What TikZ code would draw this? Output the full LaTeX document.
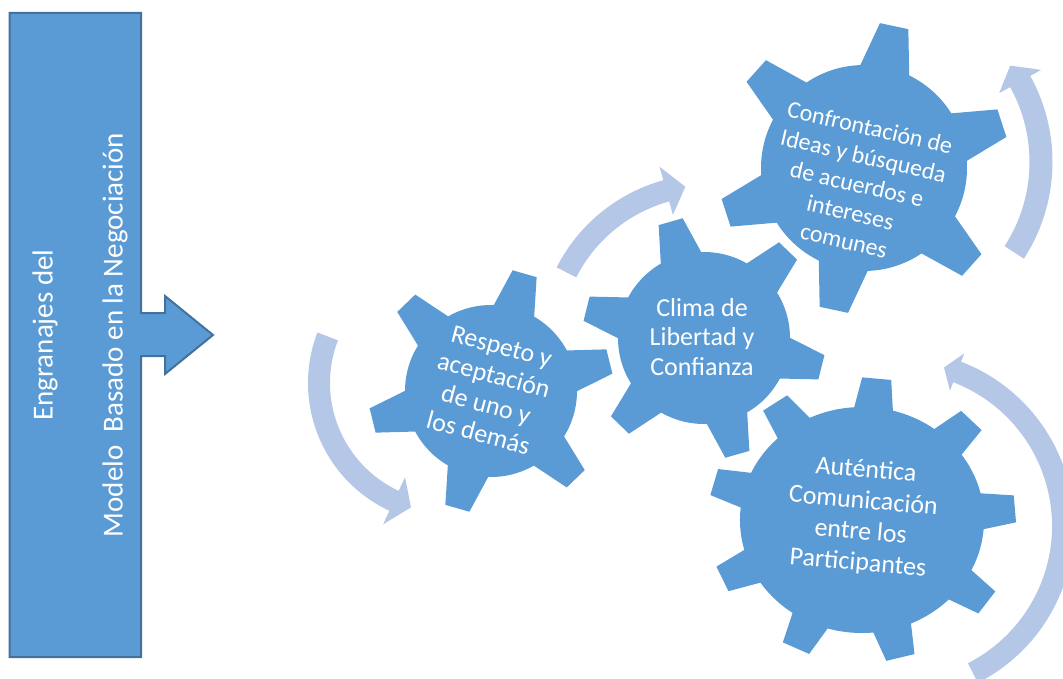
\documentclass[tikz,border=0pt]{standalone}
\usepackage{fontspec}
\setmainfont{Carlito}
\definecolor{gearblue}{HTML}{5B9BD5}
\definecolor{lightblue}{HTML}{B4C7E7}
\definecolor{edgeblue}{HTML}{41719C}
% cx, cy(image), teeth, body r, tip R, offset, tip half width, base half width, xscale
\newcommand\drawgear[9]{%
 \begin{scope}[shift={(#1,-#2)},xscale=#9]
  \fill[gearfill] (0,0) circle (#4);
  \foreach \k in {1,...,#3}{%
   \fill[gearfill,rotate={#6+360/#3*(\k-1)}]
     ({sqrt(#4*#4-#8*#8)-14},-#8) -- ({sqrt(#4*#4-#8*#8)},-#8) -- (#5,-#7) --
     (#5,#7) -- ({sqrt(#4*#4-#8*#8)},#8) -- ({sqrt(#4*#4-#8*#8)-14},#8) -- cycle;}
 \end{scope}}
% cx, cy(image), r, half width, start angle, head base angle, tip angle, head half width
\newcommand\circarrow[8]{%
 \begin{scope}[shift={(#1,-#2)}]
  \fill[cyclefill] (#5:{#3+#4}) arc[start angle=#5, end angle=#6, radius={#3+#4}]
    -- (#6:{#3+#8}) -- (#7:#3) -- (#6:{#3-#8}) -- (#6:{#3-#4})
    arc[start angle=#6, end angle=#5, radius={#3-#4}] -- cycle;
 \end{scope}}
\begin{document}
\begin{tikzpicture}[x=1pt,y=1pt,
  gearfill/.style={fill=gearblue},
  cyclefill/.style={fill=lightblue},
  geartext/.style={text=white, align=center, inner sep=0pt}]
\useasboundingbox (0,0) rectangle (1063,-679);
\begin{scope}
\clip (0,0) rectangle (1063,-679);
% light circular arrows
\circarrow{449}{383}{130}{11}{159}{245}{253}{26}
\circarrow{709}{345}{160}{11}{153}{105.5}{98.5}{25}
\circarrow{875}{162}{166}{11.5}{-33}{29}{35.5}{24}
\circarrow{898}{526}{165}{11}{-63}{69}{73.8}{20}
\end{scope}
% gears
\drawgear{491}{391}{6}{86}{122}{14}{12.5}{21}{1}
\drawgear{704}{338}{6}{86}{121}{-14}{12.5}{21}{1}
\drawgear{864}{168}{6}{103}{145}{18}{14.5}{25}{1}
\drawgear{862}{520}{9}{113}{142}{4.5}{13.5}{18}{1.08}
% left box with arrow
\draw[fill=gearblue, draw=edgeblue, line width=2] (9.5,-13) -- (141,-13) -- (141,-313)
  -- (165,-313) -- (165,-296) -- (213,-335) -- (165,-374) -- (165,-356) -- (141,-356)
  -- (141,-657) -- (9.5,-657) -- cycle;
\node[text=white, rotate=90, align=center, inner sep=0pt,
  font=\fontsize{29}{35}\selectfont] (lefttext) at (80,-335)
  {Engranajes del\\[35pt]Modelo~~Basado en la Negociación};
% gear texts
\node[geartext, rotate=-15, font=\fontsize{26}{30}\selectfont] (respeto) at (490,-390)
  {Respeto y\\aceptación\\de uno y\\los demás};
\node[geartext, font=\fontsize{26}{29.5}\selectfont] (clima) at (702,-337)
  {Clima de\\Libertad y\\Confianza};
\node[geartext, rotate=-13, font=\fontsize{24}{29}\selectfont] (confront) at (857,-184)
  {Confrontación de\\Ideas y búsqueda\\de acuerdos e\\intereses\\comunes};
\node[geartext, rotate=-5, font=\fontsize{26}{31}\selectfont] (autentica) at (862,-517)
  {Auténtica\\Comunicación\\entre los\\Participantes};
\end{tikzpicture}
\end{document}
